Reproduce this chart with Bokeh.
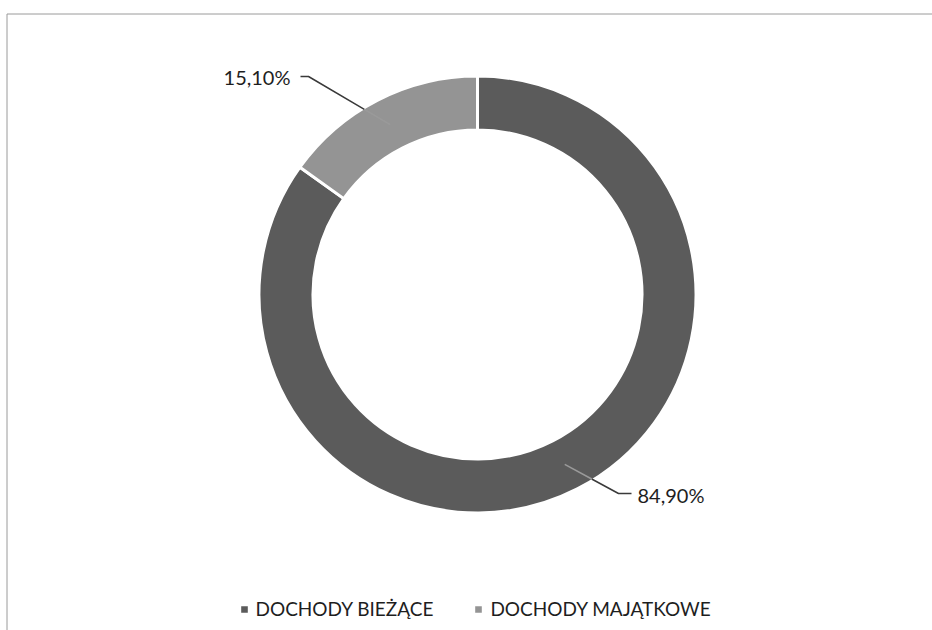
import numpy as np
from bokeh.plotting import figure
from bokeh.models import Range1d, Legend, LegendItem, ColumnDataSource
from bokeh.core.properties import value
from bokeh.embed import file_html
from bokeh.resources import INLINE

# ---- data ----
categories = ["DOCHODY BIEŻĄCE", "DOCHODY MAJĄTKOWE"]
shares = [84.90, 15.10]
share_labels = ["84,90%", "15,10%"]
colors = ["#5b5b5b", "#949494"]

# ---- layout (screen pixels) ----
W, H = 932, 630
def sy(y):  # screen y -> data y
    return H - y

CX, CY = 477, sy(294)
R_IN, R_OUT = 164.5, 218.5
R_MID = 191
FONT = "Lato"

p = figure(width=W, height=H, x_range=Range1d(0, W), y_range=Range1d(0, H),
           x_axis_type=None, y_axis_type=None, output_backend="svg",
           toolbar_location=None, min_border=0, outline_line_color=None,
           background_fill_color="white", border_fill_color="white")
p.grid.visible = False

# frame lines (top and left)
p.line([6.5, 6.5, W], [0, sy(13.5), sy(13.5)], line_color="#9a9a9a", line_width=1)

vals = np.array(shares, dtype=float)
frac = vals / vals.sum()
cum = np.cumsum(frac)
starts = np.pi / 2 - 2 * np.pi * (cum - frac)
ends = np.pi / 2 - 2 * np.pi * cum
mids = (starts + ends) / 2

src = ColumnDataSource(dict(x=[CX] * len(vals), y=[CY] * len(vals), start=starts, end=ends,
                            color=colors, cat=categories))
wr = p.annular_wedge(x="x", y="y", inner_radius=R_IN, outer_radius=R_OUT,
                     start_angle="start", end_angle="end", direction="clock",
                     fill_color="color", line_color="white", line_width=3, source=src)

# leader lines + labels
label_anchor = [(637, sy(494), "left"), (290, sy(76), "right")]
elbows = [((618, sy(493)), (631, sy(493))), ((308, sy(76)), (300, sy(76)))]
for i in range(len(vals)):
    mx = CX + R_MID * np.cos(mids[i])
    my = CY + R_MID * np.sin(mids[i])
    (ex, ey), (tx, ty) = elbows[i]
    dx, dy = mx - ex, my - ey
    fx, fy = ex - CX, ey - CY
    a = dx * dx + dy * dy
    b = 2 * (fx * dx + fy * dy)
    c = fx * fx + fy * fy - (R_OUT - 1.5) ** 2
    t = (-b - np.sqrt(b * b - 4 * a * c)) / (2 * a)
    ix, iy = ex + t * dx, ey + t * dy
    p.line([tx, ex, ix], [ty, ey, iy], line_color="#3a3a3a", line_width=1.5)
    p.line([ix, mx], [iy, my], line_color="#9a9a9a", line_width=1.5)
    lx, ly, al = label_anchor[i]
    p.text(x=[lx], y=[ly], text=[share_labels[i]], text_align=al, text_baseline="middle",
           text_font=value(FONT), text_font_size="20px", text_color="#1e1e1e")

legend = Legend(items=[LegendItem(label=categories[i], renderers=[wr], index=i) for i in range(len(vals))],
                orientation="horizontal", location=(237.5, 10), glyph_width=12, glyph_height=12,
                label_text_font=FONT, label_text_font_size="19px", label_text_color="#1e1e1e",
                label_standoff=6, spacing=39, padding=0, margin=0,
                border_line_alpha=0, background_fill_alpha=0)
p.add_layout(legend)

open("out.html", "w").write(file_html(p, INLINE))
